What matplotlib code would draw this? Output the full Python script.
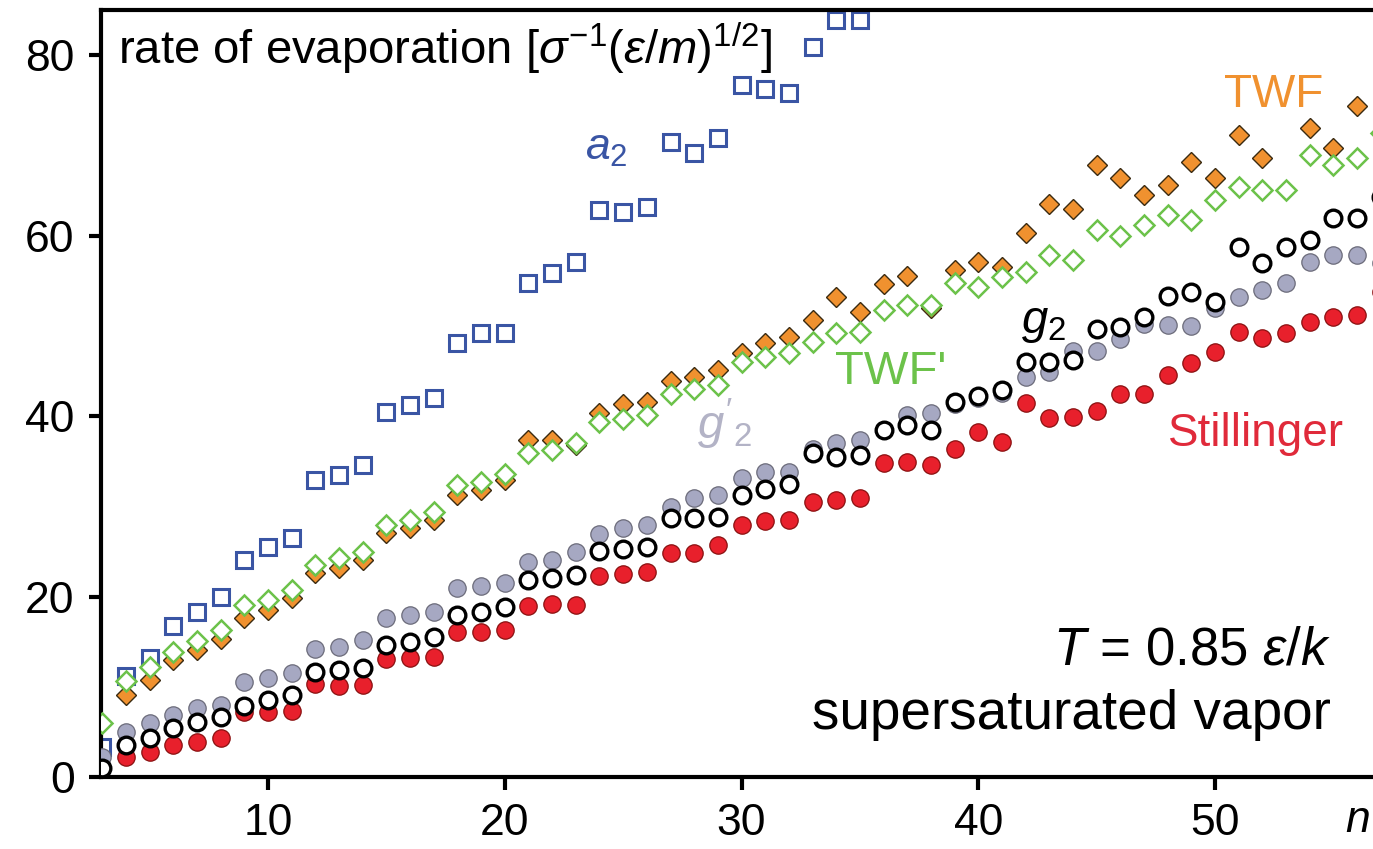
import numpy as np
import matplotlib
matplotlib.use("Agg")
import matplotlib.pyplot as plt

plt.rcParams["font.family"] = ["Liberation Sans", "DejaVu Sans"]
plt.rcParams["mathtext.fontset"] = "custom"
plt.rcParams["mathtext.rm"] = "Liberation Sans"
plt.rcParams["mathtext.it"] = "Liberation Sans:italic"

nan = np.nan

# cluster size n = 3 .. 57
n = np.arange(3, 58)

# a2 (only up to n = 35, the rest is off the top)
n_a2 = np.arange(3, 36)
a2 = [3.3, 11.2, 13.2, 16.7, 18.3, 20.0, 24.0, 25.5, 26.5, 32.9, 33.5, 34.6,
      40.4, 41.2, 42.0, 48.1, 49.2, 49.2, 54.7, 55.8, 57.1, 62.8, 62.6, 63.2,
      70.4, 69.1, 70.8, 76.7, 76.3, 75.8, 80.9, 83.9, 83.9]

twf = [nan, 9.1, 10.7, 13.0, 14.1, 15.3, 17.6, 18.5, 19.8, 22.6, 23.2, 24.0,
       27.0, 27.6, 28.5, 31.2, 31.8, 32.9, 37.3, 37.4, 36.8, 40.3, 41.3, 41.6,
       43.9, 44.3, 45.1, 47.0, 48.1, 48.8, 50.6, 53.2, 51.5, 54.6, 55.5, 52.0,
       56.2, 57.1, 56.5, 60.3, 63.5, 63.0, 67.8, 66.4, 64.5, 65.6, 68.1, 66.4,
       71.1, 68.6, nan, 71.9, 69.7, 74.4, nan]

twf_p = [6.0, 10.6, 12.2, 13.8, 15.1, 16.3, 19.1, 19.6, 20.7, 23.5, 24.3, 24.9,
         27.9, 28.5, 29.4, 32.4, 32.7, 33.6, 35.9, 36.2, 37.0, 39.3, 39.7, 40.1,
         42.5, 43.0, 43.4, 46.0, 46.5, 47.0, 48.2, 49.2, 49.3, 51.8, 52.3, 52.3,
         54.7, 54.3, 55.4, 56.0, 57.8, 57.3, 60.6, 60.0, 61.2, 62.3, 61.7, 63.9,
         65.4, 65.0, 65.0, 68.9, 67.8, 68.6, 71.4]

g2 = [1.0, 3.5, 4.3, 5.4, 6.1, 6.7, 7.9, 8.5, 9.1, 11.6, 11.9, 12.1,
      14.6, 15.0, 15.5, 18.0, 18.3, 18.8, 21.8, 22.0, 22.4, 25.1, 25.3, 25.5,
      28.7, 28.7, 28.8, 31.3, 31.9, 32.5, 35.9, 35.5, 35.7, 38.5, 39.0, 38.4,
      41.6, 42.2, 42.9, 46.0, 46.0, 46.2, 49.6, 49.9, 51.0, 53.3, 53.8, 52.6,
      58.7, 57.0, 58.7, 59.5, 62.0, 62.0, 64.3]

g2_p = [2.2, 5.0, 6.0, 6.9, 7.6, 8.0, 10.5, 11.0, 11.5, 14.2, 14.4, 15.2,
        17.6, 18.0, 18.3, 20.9, 21.2, 21.5, 23.8, 24.0, 24.9, 26.9, 27.6, 27.9,
        29.9, 30.9, 31.2, 33.1, 33.8, 33.8, 36.4, 37.0, 37.3, 38.4, 40.1, 40.3,
        41.3, 42.0, 42.6, 44.3, 44.9, 47.2, 47.2, 48.5, 50.2, 50.1, 50.0, 52.0,
        53.2, 54.0, 54.7, 57.1, 57.8, 57.8, 57.0]

stillinger = [nan, 2.2, 2.8, 3.5, 3.9, 4.3, 7.2, 7.2, 7.3, 10.3, 10.1, 10.2,
              13.1, 13.2, 13.3, 16.1, 16.1, 16.3, 19.0, 19.2, 19.1, 22.3, 22.5, 22.7,
              24.8, 24.8, 25.7, 27.9, 28.4, 28.5, 30.5, 30.7, 30.9, 34.8, 34.9, 34.6,
              36.3, 38.2, 37.1, 41.5, 39.8, 39.9, 40.6, 42.5, 42.4, 44.5, 45.9, 47.1,
              49.3, 48.6, 49.2, 50.4, 51.0, 51.2, 53.7]

BLUE = "#3a55a4"
ORANGE = "#f0912f"
GREEN = "#6cc24a"
GRAY = "#a6a8c2"
RED = "#e8202c"

fig = plt.figure(figsize=(13.73, 8.49), dpi=100)
ax = fig.add_axes([101 / 1373, 72 / 849, 1 - 101 / 1373, 767 / 849])

ax.plot(n_a2, a2, ls="none", marker="s", ms=11, mfc="white", mec=BLUE, mew=2.2, zorder=2)
ax.plot(n, twf, ls="none", marker="D", ms=10.5, mfc=ORANGE, mec="#3a2a10", mew=1.0, zorder=3)
ax.plot(n, twf_p, ls="none", marker="D", ms=10.5, mfc="white", mec=GREEN, mew=1.8, zorder=4)
ax.plot(n, g2_p, ls="none", marker="o", ms=12.5, mfc=GRAY, mec="#6b6b7a", mew=0.9, zorder=5)
ax.plot(n, stillinger, ls="none", marker="o", ms=12.5, mfc=RED, mec="#8a1010", mew=0.9, zorder=6)
ax.plot(n, g2, ls="none", marker="o", ms=12, mfc="white", mec="black", mew=2.4, zorder=7)

ax.set_xlim(2.94, 2.94 + (1373 - 101) / 23.67)
ax.set_ylim(0, 85)
ax.set_xticks([10, 20, 30, 40, 50])
ax.set_yticks([0, 20, 40, 60, 80])
ax.tick_params(direction="out", length=9, width=3, labelsize=32, pad=10)
for side in ["left", "bottom", "top"]:
    ax.spines[side].set_linewidth(3)
ax.spines["right"].set_visible(False)

ax.text(3.66, 79.0, r"rate of evaporation [$\sigma^{-1}(\varepsilon/m)^{1/2}$]",
        fontsize=34, ha="left", va="baseline")
ax.text(23.4, 68.4, r"$a_2$", color=BLUE, fontsize=32, ha="left", va="baseline")
ax.text(50.4, 74.2, "TWF", color=ORANGE, fontsize=33, ha="left", va="baseline")
ax.text(33.96, 43.5, "TWF'", color=GREEN, fontsize=34, ha="left", va="baseline")
ax.text(41.8, 49.2, r"$g_2$", color="black", fontsize=34, ha="left", va="baseline")
ax.text(28.1, 37.4, r"$g'_2$", color="#b3b3c6", fontsize=34, ha="left", va="baseline")
ax.text(48.0, 36.7, "Stillinger", color="#e02a3a", fontsize=33, ha="left", va="baseline")
ax.text(54.9, 12.5, r"$T$ = 0.85 $\varepsilon/k$", fontsize=38, ha="right", va="baseline")
ax.text(54.9, 5.3, "supersaturated vapor", fontsize=39.5, ha="right", va="baseline")

fig.text(1345 / 1373, 1 - 832 / 849, r"$n$", fontsize=32, ha="left", va="baseline")

fig.savefig("out.png", dpi=100)
